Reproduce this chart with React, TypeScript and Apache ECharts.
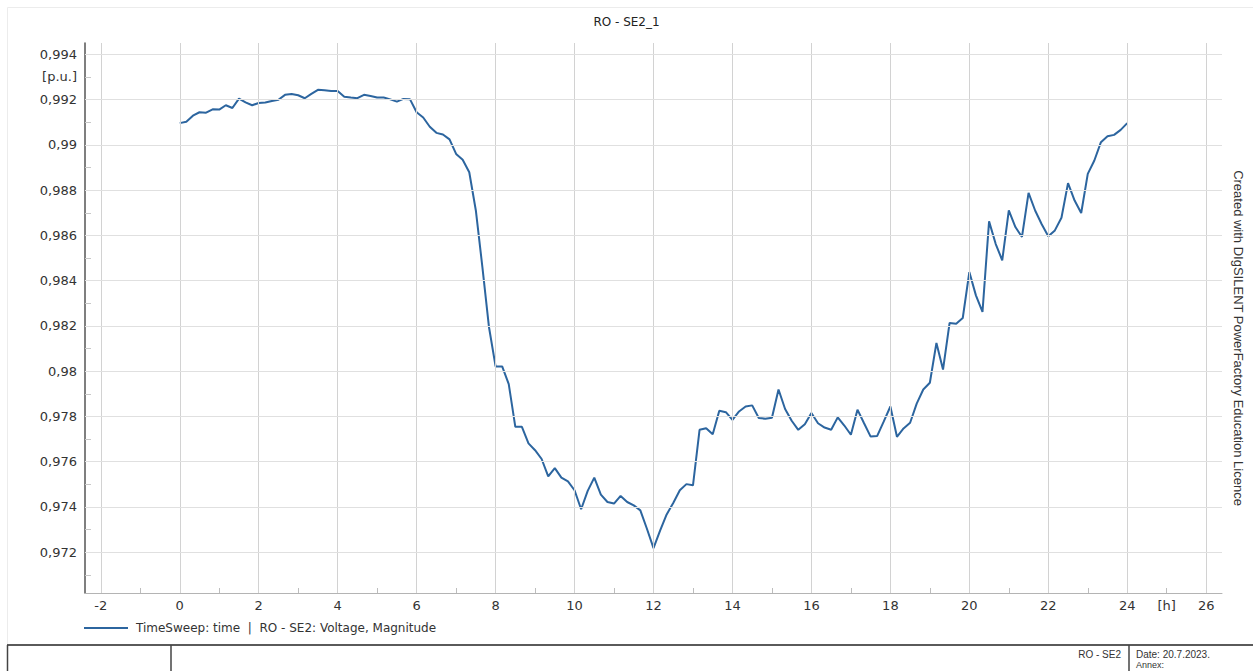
import React, { useEffect, useRef } from "react";
import * as echarts from "echarts";

// ---- data ----
const TITLE = "RO - SE2_1";
const SERIES_NAME = "TimeSweep: time  |  RO - SE2: Voltage, Magnitude";
const SAMPLE_STEP_MIN = 10; // time sweep step, minutes
// Voltage magnitude [p.u.] every 10 minutes from 0 h to 24 h
const VOLTAGE = [
  0.99096, 0.99102, 0.99129, 0.99144, 0.99142, 0.99157, 0.99156, 0.99175, 0.99163, 0.99204,
  0.99188, 0.99175, 0.99185, 0.99187, 0.99194, 0.99199, 0.99221, 0.99225, 0.99219, 0.99206,
  0.99225, 0.99243, 0.99241, 0.99238, 0.99238, 0.99213, 0.99209, 0.99206, 0.99221, 0.99216,
  0.99209, 0.99209, 0.99201, 0.99191, 0.99203, 0.99201, 0.99144, 0.99121, 0.9908, 0.99053,
  0.99046, 0.99024, 0.9896, 0.98934, 0.98879, 0.9871, 0.98459, 0.98194, 0.98021, 0.98021,
  0.97943, 0.97754, 0.97754, 0.97681, 0.97651, 0.97612, 0.97535, 0.97572, 0.9753, 0.97513,
  0.97474, 0.9739, 0.97471, 0.9753, 0.97455, 0.97422, 0.97415, 0.97449, 0.97422, 0.97407,
  0.97385, 0.97304, 0.97218, 0.97296, 0.97367, 0.97418, 0.97474, 0.97501, 0.97496, 0.97741,
  0.97748, 0.97721, 0.97825, 0.97819, 0.97785, 0.97822, 0.97844, 0.97849, 0.97793, 0.9779,
  0.97794, 0.97919, 0.97833, 0.97781, 0.97741, 0.97766, 0.97815, 0.9777, 0.97751, 0.97741,
  0.97796, 0.9776, 0.97719, 0.9783, 0.9777, 0.97711, 0.97714, 0.97778, 0.97844, 0.9771,
  0.97747, 0.97772, 0.97857, 0.97919, 0.97949, 0.98125, 0.98007, 0.98213, 0.9821, 0.98235,
  0.98438, 0.98335, 0.98262, 0.98662, 0.98563, 0.9849, 0.9871, 0.98637, 0.98593, 0.98788,
  0.9871, 0.98649, 0.98596, 0.98622, 0.98678, 0.98831, 0.98754, 0.98699, 0.98872, 0.98931,
  0.99012, 0.99038, 0.99044, 0.99066, 0.99096,
];

const X_MAJOR = [-2, 0, 2, 4, 6, 8, 10, 12, 14, 16, 18, 20, 22, 24, 26];
const X_MINOR = [-1, 1, 3, 5, 7, 9, 11, 13, 15, 17, 19, 21, 23, 25];
const X_UNIT_AT = 25;
const X_UNIT = "[h]";
const Y_MAJOR = [0.972, 0.974, 0.976, 0.978, 0.98, 0.982, 0.984, 0.986, 0.988, 0.99, 0.992, 0.994];
const Y_MINOR = [0.971, 0.973, 0.975, 0.977, 0.979, 0.981, 0.983, 0.985, 0.987, 0.989, 0.991, 0.993];
const Y_UNIT_AT = 0.993;
const Y_UNIT = "[p.u.]";
const WATERMARK = "Created with DIgSILENT PowerFactory Education Licence";
const FOOTER_NAME = "RO - SE2";
const FOOTER_DATE = "Date: 20.7.2023.";
const FOOTER_ANNEX = "Annex:";

const LINE_COLOR = "#2c659f";
const FONT = "DejaVu Sans";
const FONT_ARIAL = "Liberation Sans";

export default function App() {
  const ref = useRef<HTMLDivElement>(null);

  useEffect(() => {
    if (!ref.current) return;
    const chart = echarts.init(ref.current, undefined, { renderer: "svg" });
    const seriesData = VOLTAGE.map((v, i) => [(i * SAMPLE_STEP_MIN) / 60, v]);

    const gridLines = [
      ...X_MAJOR.map((x) => ({ xAxis: x, lineStyle: { color: "#d2d2d2", width: 1, type: "solid" } })),
      ...Y_MAJOR.map((y) => ({ yAxis: y, lineStyle: { color: "#e0e0e0", width: 1, type: "solid" } })),
    ];

    chart.setOption({
      animation: false,
      backgroundColor: "#ffffff",
      title: {
        text: TITLE,
        left: "center",
        top: 16,
        padding: 0,
        textStyle: { fontFamily: FONT, fontSize: 12, fontWeight: "normal", color: "#222" },
      },
      legend: {
        show: true,
        data: [SERIES_NAME],
        left: 84,
        top: 622,
        padding: 0,
        icon: "rect",
        itemWidth: 44,
        itemHeight: 2,
        itemGap: 10,
        textStyle: { fontFamily: FONT, fontSize: 12, color: "#333", padding: [0, 0, 0, 3] },
      },
      grid: { left: 85, right: 31, top: 43, bottom: 78, containLabel: false, outerBoundsMode: "none" },
      xAxis: {
        type: "value",
        min: -2.4,
        max: 26.4,
        axisLine: { show: true, onZero: false, lineStyle: { color: "#b4b4b4", width: 1 } },
        axisTick: {
          show: true,
          inside: true,
          length: 5,
          customValues: X_MINOR,
          lineStyle: { color: "#bdbdbd", width: 1 },
        },
        axisLabel: {
          show: true,
          customValues: [...X_MAJOR, X_UNIT_AT].sort((a, b) => a - b),
          margin: 6,
          fontFamily: FONT,
          fontSize: 13,
          color: "#333",
          formatter: (v: number) => (Math.abs(v - X_UNIT_AT) < 1e-9 ? X_UNIT : String(v)),
        },
        splitLine: { show: false },
      },
      yAxis: {
        type: "value",
        min: 0.9702,
        max: 0.9945,
        axisLine: { show: true, onZero: false, lineStyle: { color: "#555", width: 1.5 } },
        axisTick: {
          show: true,
          inside: true,
          length: 6,
          customValues: Y_MINOR,
          lineStyle: { color: "#c8c8c8", width: 1 },
        },
        axisLabel: {
          show: true,
          customValues: [...Y_MAJOR, Y_UNIT_AT].sort((a, b) => a - b),
          margin: 8,
          fontFamily: FONT,
          fontSize: 13,
          color: "#333",
          formatter: (v: number) =>
            Math.abs(v - Y_UNIT_AT) < 1e-9 ? Y_UNIT : String(parseFloat(v.toFixed(3))).replace(".", ","),
        },
        splitLine: { show: false },
      },
      series: [
        {
          name: "grid",
          type: "line",
          data: [],
          z: 1,
          silent: true,
          markLine: {
            silent: true,
            precision: 6,
            symbol: ["none", "none"],
            label: { show: false },
            emphasis: { disabled: true },
            data: gridLines,
          },
        },
        {
          name: SERIES_NAME,
          type: "line",
          z: 3,
          data: seriesData,
          symbol: "none",
          lineStyle: { color: LINE_COLOR, width: 2 },
          itemStyle: { color: LINE_COLOR },
        },
      ],
      graphic: [
        {
          type: "rect",
          silent: true,
          shape: { x: 7.5, y: 7.5, width: 1250, height: 670 },
          style: { fill: "none", stroke: "#ececec", lineWidth: 1 },
        },
        {
          type: "text",
          x: 1238,
          y: 338,
          rotation: -Math.PI / 2,
          style: {
            text: WATERMARK,
            fontFamily: FONT_ARIAL,
            fontSize: 13,
            fill: "#333",
            align: "center",
            verticalAlign: "middle",
          },
        },
        {
          type: "line",
          shape: { x1: 7, y1: 645, x2: 1253, y2: 645 },
          style: { stroke: "#5a5a5a", lineWidth: 2 },
        },
        {
          type: "line",
          shape: { x1: 7.5, y1: 645, x2: 7.5, y2: 671 },
          style: { stroke: "#444", lineWidth: 1.5 },
        },
        {
          type: "line",
          shape: { x1: 171, y1: 645, x2: 171, y2: 671 },
          style: { stroke: "#444", lineWidth: 1.5 },
        },
        {
          type: "line",
          shape: { x1: 1129, y1: 645, x2: 1129, y2: 671 },
          style: { stroke: "#444", lineWidth: 1.5 },
        },
        {
          type: "text",
          x: 1121,
          y: 654,
          style: {
            text: FOOTER_NAME,
            fontFamily: FONT_ARIAL,
            fontSize: 10,
            fill: "#333",
            align: "right",
            verticalAlign: "middle",
          },
        },
        {
          type: "text",
          x: 1136,
          y: 654,
          style: {
            text: FOOTER_DATE,
            fontFamily: FONT_ARIAL,
            fontSize: 10,
            fill: "#333",
            align: "left",
            verticalAlign: "middle",
          },
        },
        {
          type: "text",
          x: 1136,
          y: 665,
          style: {
            text: FOOTER_ANNEX,
            fontFamily: FONT_ARIAL,
            fontSize: 9,
            fill: "#333",
            align: "left",
            verticalAlign: "middle",
          },
        },
      ],
    });

    return () => chart.dispose();
  }, []);

  return (
    <div
      ref={ref}
      style={{ position: "fixed", left: 0, top: 0, width: 1253, height: 671, background: "#fff" }}
    />
  );
}
